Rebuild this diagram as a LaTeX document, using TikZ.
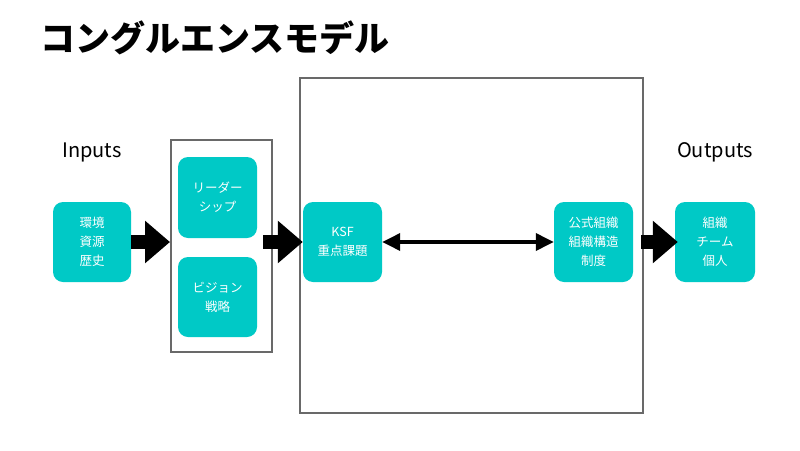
\documentclass[tikz,border=0pt]{standalone}
\usepackage{fontspec}
\setmainfont{Noto Sans CJK JP}
\usetikzlibrary{arrows.meta}
\definecolor{teal1}{RGB}{0,201,198}
\definecolor{frame}{RGB}{105,105,105}
\tikzset{
  card/.style={fill=teal1, rounded corners=10pt, minimum width=78pt, minimum height=80pt,
    text=white, align=center, font=\fontsize{12.5}{19}\selectfont, inner sep=0pt},
  grp/.style={draw=frame, line width=2pt, inner sep=0pt},
  blockarrow/.style={line width=14pt, -{Triangle[length=25pt,width=41pt]}},
  duo/.style={line width=3.5pt, {Triangle[length=18pt,width=17pt]}-{Triangle[length=18pt,width=17pt]}},
  lbl/.style={font=\fontsize{20}{24}\selectfont, inner sep=0pt}
}
\begin{document}
\begin{tikzpicture}[x=1pt,y=-1pt]
\useasboundingbox[fill=white] (0,0) rectangle (800,450);
\node[anchor=west, inner sep=0pt, font=\fontsize{35}{40}\selectfont\bfseries] (title) at (40,38) {コングルエンスモデル};
\node[lbl] (inp) at (92,152) {Inputs};
\node[lbl] (outp) at (715,152) {Outputs};
\node[grp, minimum width=101pt, minimum height=212pt] (g1) at (221.5,246) {};
\node[grp, minimum width=343pt, minimum height=335pt] (big) at (471.5,245.5) {};
\node[card] (env) at (92,242) {環境\\資源\\歴史};
\node[card, minimum width=79pt, minimum height=81pt] (lead) at (217.5,197.5) {リーダー\\シップ};
\node[card, minimum width=79pt] (vis) at (217.5,297) {ビジョン\\戦略};
\node[card, minimum width=79pt] (ksf) at (342.5,242) {KSF\\重点課題};
\node[card, minimum width=79pt] (form) at (593.5,242) {公式組織\\組織構造\\制度};
\node[card, minimum width=80pt] (out) at (715,242) {組織\\チーム\\個人};
\coordinate (a2s) at ([xshift=-10pt]g1.east |- ksf.west);
\coordinate (a3s) at ([xshift=-3pt]big.east |- form.east);
\draw[blockarrow] (env.east) -- (env.east -| g1.west);
\draw[blockarrow] (a2s) -- (ksf.west);
\draw[blockarrow] (a3s) -- ([xshift=3pt]out.west);
\draw[duo] (ksf.east) -- (form.west);
\end{tikzpicture}
\end{document}
